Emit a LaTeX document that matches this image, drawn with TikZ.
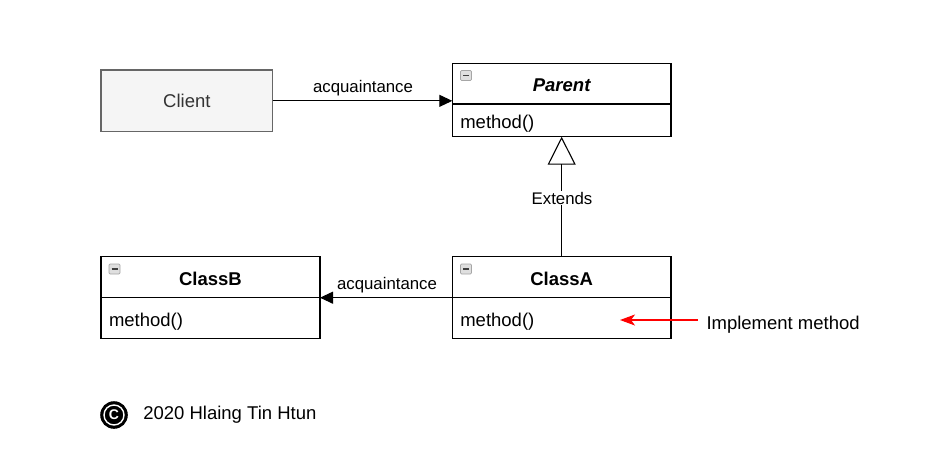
\documentclass[tikz,border=0pt]{standalone}
\usepackage{fontspec}
\setmainfont{Liberation Sans}
\usetikzlibrary{arrows.meta}
\definecolor{clientfill}{HTML}{F5F5F5}
\definecolor{clientdraw}{HTML}{666666}
\definecolor{clienttext}{HTML}{333333}
\begin{document}
\begin{tikzpicture}[x=1pt,y=-1pt,
  every node/.style={inner sep=0pt,outer sep=0pt},
  mainfont/.style={font=\fontsize{18.5}{22}\selectfont},
  labelfont/.style={font=\fontsize{16.8}{20}\selectfont},
  clientbox/.style={draw=clientdraw,fill=clientfill,line width=1.2pt,text=clienttext,minimum width=171.7pt,minimum height=61.7pt,mainfont},
  header/.style={draw,line width=1.2pt,fill=white,minimum width=218.7pt,minimum height=41pt,text height=16.3pt,text depth=0pt,font=\fontsize{18.5}{22}\selectfont\bfseries},
  body/.style={draw,line width=1.2pt,fill=white,minimum width=218.7pt,text width=202.7pt,align=left,text height=21.5pt,text depth=3.9pt,mainfont},
  icon/.style={draw=gray!70,fill=gray!25,rounded corners=1.2pt,minimum width=11pt,minimum height=10pt,line width=0.7pt},
  iconbar/.style={draw=gray!50!black,line width=1.1pt},
  conn/.style={line width=1.1pt},
  assoc/.style={conn,-{Triangle[length=13pt,width=12pt]}},
  inherit/.style={conn,-{Triangle[open,length=28pt,width=28pt,line width=1.1pt]}},
  redarrow/.style={red,line width=1.1pt,-{Stealth[length=15pt,width=11pt,inset=4pt]}},
  edgelabel/.style={labelfont,fill=white,inner sep=1pt}
]
\useasboundingbox (0,0) rectangle (936,466);

% Client
\node[clientbox] (client) at (186.85,100.85) {Client};

% Parent
\node[header] (parent) at (561.65,83.65) {\itshape Parent};
\node[body,minimum height=32.7pt,text height=19.5pt] (parentbody) at (561.65,120.35) {method()};
\node[icon] (parenticon) at (466,75.5) {};
\draw[iconbar] ([xshift=-3pt]parenticon.center) -- ([xshift=3pt]parenticon.center);

% ClassA
\node[header] (classA) at (561.65,277.2) {ClassA};
\node[body,minimum height=40.6pt] (classAbody) at (561.65,318) {method()};
\node[icon] (classAicon) at (466,269) {};
\draw[iconbar] ([xshift=-3pt]classAicon.center) -- ([xshift=3pt]classAicon.center);

% ClassB
\node[header,minimum width=219pt] (classB) at (210.5,277.2) {ClassB};
\node[body,minimum width=219pt,text width=203pt,minimum height=40.6pt] (classBbody) at (210.5,318) {method()};
\node[icon] (classBicon) at (114.5,269) {};
\draw[iconbar] ([xshift=-3pt]classBicon.center) -- ([xshift=3pt]classBicon.center);

% Connectors
\draw[assoc] (client.east) -- (client.east -| parent.west);
\node[labelfont] (lab1) at (363,88.5) {acquaintance};

\draw[assoc] (classA.south west) -- (classA.south west -| classB.east);
\node[labelfont] (lab2) at (387,285) {acquaintance};

\draw[inherit] (classA.north) -- (parentbody.south);
\node[edgelabel] (ext) at (562,198) {Extends};

% Implement method
\node[mainfont,anchor=west] (impl) at (706.5,324.5) {Implement method};
\coordinate (redtip) at (620,320);
\draw[redarrow] ([xshift=-9pt]impl.west |- redtip) -- (redtip);

% Copyright
\fill[black] (114,415) circle (13.8pt);
\draw[white,line width=1.4pt] (114,415) circle (10pt);
\node[text=white,font=\fontsize{14}{16}\selectfont\bfseries] (copyc) at (114,415) {C};
\node[mainfont,anchor=west] (copy) at (143.3,415) {2020 Hlaing Tin Htun};
\end{tikzpicture}
\end{document}
